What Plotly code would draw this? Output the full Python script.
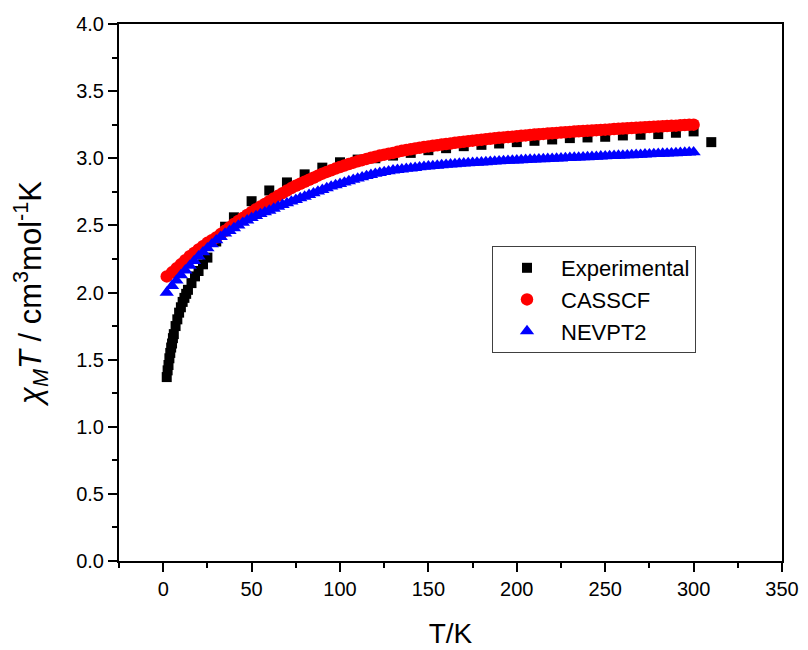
import plotly.graph_objects as go

# Experimental chi_M T data
T_exp = [2, 2.5, 3, 3.5, 4, 4.5, 5, 5.5, 6, 7, 8, 9, 10, 11, 12, 13, 14, 16, 18, 20,
         22.5, 25, 30, 35, 40, 50, 60, 70, 80, 90, 100, 110, 120, 130, 140, 150, 160,
         170, 180, 190, 200, 210, 220, 230, 240, 250, 260, 270, 280, 290, 300, 310]
chi_exp = [1.37, 1.42, 1.46, 1.51, 1.55, 1.59, 1.62, 1.66, 1.69, 1.75, 1.80, 1.85, 1.89,
           1.93, 1.96, 1.99, 2.02, 2.07, 2.12, 2.16, 2.21, 2.26, 2.38, 2.49, 2.56, 2.68,
           2.76, 2.82, 2.88, 2.93, 2.97, 2.99, 3.00, 3.02, 3.04, 3.06, 3.075, 3.09, 3.10,
           3.11, 3.12, 3.13, 3.14, 3.15, 3.155, 3.16, 3.17, 3.175, 3.18, 3.19, 3.20, 3.12]

# Calculated curves: T = 2, then 5 to 300 K every 2.5 K
T_calc = [2] + [5 + 2.5 * i for i in range(119)]
chi_casscf = [
    2.12, 2.15, 2.18, 2.21, 2.24, 2.27, 2.295, 2.32, 2.345, 2.37,
    2.39, 2.41, 2.435, 2.46, 2.485, 2.51, 2.533, 2.555, 2.578, 2.60,
    2.62, 2.64, 2.66, 2.68, 2.70, 2.72, 2.74, 2.76, 2.778, 2.795,
    2.81, 2.825, 2.84, 2.855, 2.87, 2.885, 2.898, 2.91, 2.923, 2.935,
    2.946, 2.957, 2.967, 2.977, 2.986, 2.995, 3.004, 3.012, 3.02, 3.027,
    3.034, 3.04, 3.048, 3.055, 3.061, 3.067, 3.073, 3.078, 3.083, 3.088,
    3.093, 3.097, 3.102, 3.106, 3.11, 3.115, 3.119, 3.123, 3.127, 3.131,
    3.135, 3.138, 3.142, 3.145, 3.149, 3.152, 3.155, 3.158, 3.161, 3.164,
    3.167, 3.17, 3.173, 3.176, 3.179, 3.181, 3.184, 3.186, 3.189, 3.191,
    3.194, 3.196, 3.199, 3.201, 3.203, 3.205, 3.207, 3.209, 3.211, 3.213,
    3.215, 3.217, 3.219, 3.221, 3.223, 3.225, 3.227, 3.229, 3.231, 3.233,
    3.235, 3.236, 3.238, 3.24, 3.242, 3.243, 3.245, 3.247, 3.249, 3.25,
]
chi_nevpt2 = [
    2.00, 2.05, 2.09, 2.13, 2.165, 2.20, 2.235, 2.27, 2.30, 2.33,
    2.36, 2.39, 2.415, 2.44, 2.46, 2.48, 2.50, 2.52, 2.538, 2.555,
    2.57, 2.585, 2.598, 2.61, 2.625, 2.64, 2.653, 2.665, 2.678, 2.69,
    2.703, 2.715, 2.728, 2.74, 2.753, 2.765, 2.778, 2.79, 2.80, 2.81,
    2.82, 2.83, 2.84, 2.85, 2.859, 2.868, 2.877, 2.885, 2.892, 2.898,
    2.904, 2.91, 2.914, 2.918, 2.922, 2.925, 2.929, 2.933, 2.937, 2.94,
    2.943, 2.946, 2.949, 2.952, 2.955, 2.957, 2.96, 2.962, 2.964, 2.966,
    2.968, 2.97, 2.972, 2.974, 2.976, 2.978, 2.98, 2.982, 2.984, 2.985,
    2.987, 2.988, 2.99, 2.991, 2.993, 2.994, 2.996, 2.997, 2.999, 3.0,
    3.002, 3.003, 3.005, 3.006, 3.008, 3.009, 3.011, 3.012, 3.014, 3.015,
    3.017, 3.018, 3.02, 3.021, 3.023, 3.024, 3.026, 3.027, 3.029, 3.03,
    3.032, 3.033, 3.035, 3.036, 3.038, 3.039, 3.041, 3.042, 3.044, 3.045,
]

FONT = "Liberation Sans, Arial, sans-serif"

fig = go.Figure()
fig.add_trace(go.Scatter(x=T_exp, y=chi_exp, mode="markers", name="Experimental",
                         marker=dict(symbol="square", size=10, color="#000000",
                                     line=dict(width=0))))
fig.add_trace(go.Scatter(x=T_calc, y=chi_casscf, mode="markers", name="CASSCF",
                         marker=dict(symbol="circle", size=12.5, color="#FF0000",
                                     line=dict(width=0))))
fig.add_trace(go.Scatter(x=T_calc, y=chi_nevpt2, mode="markers", name="NEVPT2",
                         marker=dict(symbol="triangle-up", size=12.5, color="#0000FF",
                                     line=dict(width=0))))

axis_common = dict(showline=True, linecolor="#000000", linewidth=2, mirror=True,
                   showgrid=False, zeroline=False, ticks="outside", ticklen=9,
                   tickwidth=2, tickcolor="#000000", automargin=False,
                   tickfont=dict(family=FONT, size=20, color="#000000"))

fig.update_layout(
    width=800, height=642,
    margin=dict(l=111, r=26, t=16, b=89),
    paper_bgcolor="white", plot_bgcolor="white",
    font=dict(family=FONT, color="#000000"),
    xaxis=dict(range=[-25, 350], tickmode="array", tickvals=list(range(0, 351, 50)),
               minor=dict(dtick=25, tick0=0, ticks="outside", ticklen=5, tickwidth=2,
                          tickcolor="#000000"),
               title=dict(text="T/K", font=dict(family=FONT, size=28), standoff=24),
               **axis_common),
    yaxis=dict(range=[0, 4], dtick=0.5, tick0=0, tickformat=".1f",
               minor=dict(dtick=0.25, tick0=0, ticks="outside", ticklen=5, tickwidth=2,
                          tickcolor="#000000"),
               title=dict(text="<i>χ<sub>M</sub>T</i> / cm<sup>3</sup>mol<sup>-1</sup>K",
                          font=dict(family=FONT, size=31), standoff=27),
               **axis_common),
    legend=dict(x=0.5626, y=0.5866, xanchor="left", yanchor="top",
                bordercolor="#404040", borderwidth=1, bgcolor="white",
                font=dict(family=FONT, size=22, color="#000000"),
                tracegroupgap=0, itemsizing="trace", itemwidth=58),
    showlegend=True,
)

fig.write_html("out.html")
